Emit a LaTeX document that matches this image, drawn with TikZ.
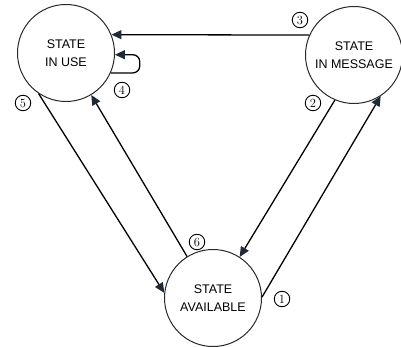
\documentclass[tikz,border=0pt]{standalone}
\usepackage{fontspec}
\newfontfamily\statefont{Liberation Sans}
\usetikzlibrary{arrows.meta}
\definecolor{headcol}{HTML}{1F2A36}
\definecolor{rimcol}{HTML}{2A2A2A}
\tikzset{
  state/.style={circle,draw=rimcol,line width=1pt,minimum size=97pt,inner sep=0pt,
    align=center,font=\statefont\fontsize{12.5}{18.5}\selectfont,text=black},
  num/.style={circle,draw=black,line width=0.9pt,minimum size=15.5pt,inner sep=0pt,
    font=\fontsize{12.5}{12.5}\selectfont},
  arr/.style={line width=1.3pt,-{Triangle[length=10pt,width=9pt,color=headcol]}}
}
\begin{document}
\begin{tikzpicture}[x=1pt,y=-1pt]
    \useasboundingbox (0,0) rectangle (401,347);
    % States
    \node[state] (use) at (66,53) {STATE\\IN USE};
    \node[state] (msg) at (354,55) {STATE\\IN MESSAGE};
    \node[state] (avail) at (213,298) {STATE\\AVAILABLE};
    % 1: available -> message
    \draw[arr] (avail.1) -- (msg.-57);
    \node[num] (n1) at (282,299) {1};
    % 2: message -> available
    \draw[arr] (msg.-113) -- (avail.57);
    \node[num] (n2) at (313,103) {2};
    % 3: message -> in use
    \draw[arr] (msg.156) -- (use.22);
    \node[num] (n3) at (300,20) {3};
    % 4: in use -> in use
    \draw[arr,rounded corners=7pt] (use.-24) -- ++(29,0) |- (use.-2);
    \node[num] (n4) at (122,90) {4};
    % 5: in use -> available
    \draw[arr] (use.-124) -- (avail.174);
    \node[num] (n5) at (23,103) {5};
    % 6: available -> in use
    \draw[arr] (avail.122) -- (use.-59);
    \node[num] (n6) at (197,242) {6};
\end{tikzpicture}
\end{document}
